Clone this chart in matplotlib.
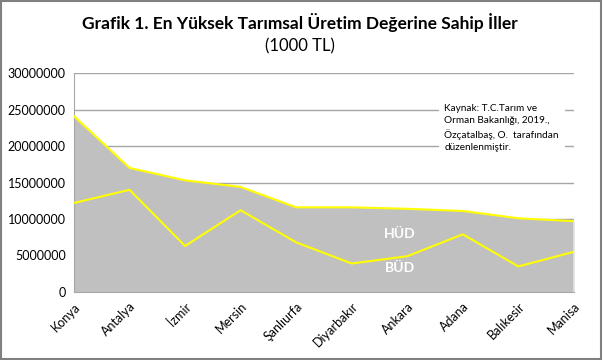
import matplotlib.pyplot as plt
from matplotlib.patches import Rectangle

iller = ["Konya", "Antalya", "İzmir", "Mersin", "Şanlıurfa", "Diyarbakır",
         "Ankara", "Adana", "Balıkesir", "Manisa"]
# toplam (HÜD üst sınır) ve BÜD değerleri, 1000 TL
toplam = [24100000, 17000000, 15300000, 14400000, 11600000, 11600000,
          11400000, 11100000, 10100000, 9700000]
bud = [12200000, 14000000, 6300000, 11200000, 6800000, 3900000,
       4900000, 7900000, 3500000, 5500000]

plt.rcParams["font.family"] = ["Lato", "DejaVu Sans"]

fig = plt.figure(figsize=(6.03, 3.6), dpi=100)
ax = fig.add_axes([0.1227, 0.189, 0.829, 0.608])

x = list(range(len(iller)))
ax.fill_between(x, 0, toplam, color="#c0c0c0", linewidth=0, zorder=2)
ax.plot(x, toplam, color="#ffff00", linewidth=1.5, zorder=3)
ax.plot(x, bud, color="#ffff00", linewidth=1.5, zorder=3)
ax.plot([x[-1], x[-1]], [0, toplam[-1]], color="#ffff00", linewidth=1.2, zorder=3)

ax.set_xlim(0, len(iller) - 1)
ax.set_ylim(0, 30000000)
ax.set_yticks(range(0, 30000001, 5000000))
ax.set_yticklabels([str(v) for v in range(0, 30000001, 5000000)], fontsize=9)
ax.set_xticks(x)
ax.set_xticklabels(iller, rotation=45, ha="right", rotation_mode="anchor", fontsize=9)
ax.tick_params(length=0, pad=6)
ax.grid(axis="y", color="#a6a6a6", linewidth=1, zorder=1)
for s in ["top", "right"]:
    ax.spines[s].set_visible(False)
ax.spines["left"].set_color("#a6a6a6")
ax.spines["bottom"].set_color("#a6a6a6")

ax.text(5.87, 7900000, "HÜD", color="white", fontweight="bold", fontsize=10,
        ha="center", va="center", zorder=4)
ax.text(5.87, 3300000, "BÜD", color="white", fontweight="bold", fontsize=10,
        ha="center", va="center", zorder=4)

fig.text(0.497, 0.938, "Grafik 1. En Yüksek Tarımsal Üretim Değerine Sahip İller",
         ha="center", va="center", fontsize=12.5, fontweight="bold")
fig.text(0.497, 0.872, "(1000 TL)", ha="center", va="center", fontsize=12)

fig.text(0.737, 0.645,
         "Kaynak: T.C.Tarım ve\nOrman Bakanlığı, 2019.,\nÖzçatalbaş, O.  tarafından\ndüzenlenmiştir.",
         ha="left", va="center", fontsize=7.2, linespacing=1.45,
         bbox=dict(facecolor="white", edgecolor="none", pad=4), zorder=5)

fig.patches.append(Rectangle((0.002, 0.003), 0.995, 0.994, transform=fig.transFigure,
                             fill=False, edgecolor="#808080", linewidth=1.5))

fig.savefig("out.png", dpi=100)
